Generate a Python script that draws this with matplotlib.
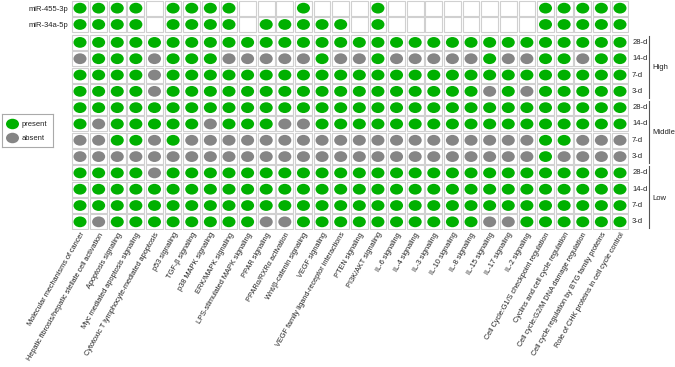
import numpy as np
import matplotlib.pyplot as plt
from matplotlib.patches import Ellipse, Rectangle

plt.rcParams['font.family'] = ['Liberation Sans', 'DejaVu Sans']

pathways = [
    "Molecular mechanisms of cancer",
    "Hepatic fibrosis/hepatic stellate cell activation",
    "Apoptosis signaling",
    "Myc mediated apoptosis signaling",
    "Cytotoxic T lymphocyte-mediated apoptosis",
    "p53 signaling",
    "TGF-β signaling",
    "p38 MAPK signaling",
    "ERK/MAPK signaling",
    "LPS-stimulated MAPK signaling",
    "PPAR signaling",
    "PPARα/RXRα activation",
    "Wnt/β-catenin signaling",
    "VEGF signaling",
    "VEGF family ligand-receptor interactions",
    "PTEN signaling",
    "PI3K/AKT signaling",
    "IL-6 signaling",
    "IL-4 signaling",
    "IL-3 signaling",
    "IL-10 signaling",
    "IL-8 signaling",
    "IL-15 signaling",
    "IL-17 signaling",
    "IL-2 signaling",
    "Cell Cycle:G1/S checkpoint regulation",
    "Cyclins and cell cycle regulation",
    "Cell cycle:G2/M DNA damage regulation",
    "Cell cycle regulation by BTG family proteins",
    "Role of CHK proteins in cell cycle control",
]

# 1 = present, 0 = absent, -1 = no mark
mir_names = ["miR-455-3p", "miR-34a-5p"]
mir455 = [1, 1, 1, 1, -1, 1, 1, 1, 1, -1, -1, -1, 1, -1, -1, -1, 1, -1, -1, -1, -1, -1, -1, -1, -1, 1, 1, 1, 1, 1]
mir34a = [1, 1, 1, 1, -1, 1, 1, 1, 1, -1, 1, 1, 1, 1, 1, -1, 1, -1, -1, -1, -1, -1, -1, -1, -1, 1, 1, 1, 1, 1]

days = ["28-d", "14-d", "7-d", "3-d"]
groups = ["High", "Middle", "Low"]

high_28 = [1] * 30
high_14 = [0, 1, 1, 1, 0, 1, 1, 1, 0, 0, 0, 0, 0, 1, 0, 0, 1, 0, 0, 0, 0, 0, 1, 0, 0, 1, 1, 0, 1, 1]
high_7 = [1, 1, 1, 1, 0, 1, 1, 1, 1, 1, 1, 1, 1, 1, 1, 1, 1, 1, 1, 1, 1, 1, 1, 1, 1, 1, 1, 1, 1, 1]
high_3 = [1, 1, 1, 1, 0, 1, 1, 1, 1, 1, 1, 1, 1, 1, 1, 1, 1, 1, 1, 1, 1, 1, 0, 1, 0, 1, 1, 1, 1, 1]

mid_28 = [1] * 30
mid_14 = [1, 0, 1, 1, 1, 1, 1, 0, 1, 1, 1, 0, 0, 1, 1, 1, 1, 1, 1, 1, 1, 1, 1, 1, 1, 1, 1, 1, 1, 1]
mid_7 = [0, 0, 1, 1, 0, 1, 0, 0, 0, 0, 0, 0, 0, 0, 0, 0, 0, 0, 0, 0, 0, 0, 0, 0, 0, 1, 1, 0, 0, 0]
mid_3 = [0, 0, 0, 0, 0, 0, 0, 0, 0, 0, 0, 0, 0, 0, 0, 0, 0, 0, 0, 0, 0, 0, 0, 0, 0, 1, 0, 0, 0, 0]

low_28 = [1, 1, 1, 1, 0, 1, 1, 1, 1, 1, 1, 1, 1, 1, 1, 1, 1, 1, 1, 1, 1, 1, 1, 1, 1, 1, 1, 1, 1, 1]
low_14 = [1] * 30
low_7 = [1] * 30
low_3 = [1, 0, 1, 1, 1, 1, 1, 1, 1, 1, 0, 0, 1, 1, 1, 1, 1, 1, 1, 1, 1, 1, 0, 0, 1, 1, 1, 1, 1, 1]

group_rows = [
    [high_28, high_14, high_7, high_3],
    [mid_28, mid_14, mid_7, mid_3],
    [low_28, low_14, low_7, low_3],
]

green = '#00b000'
grey = '#858585'
gap = 0.1

fig = plt.figure(figsize=(6.75, 3.67), dpi=100)
ax = fig.add_axes([70.7 / 675, 137 / 367, 558.6 / 675, 230 / 367])

def draw_row(vals, y):
    for i, v in enumerate(vals):
        ax.add_patch(Rectangle((i - 0.45, y - 0.46), 0.9, 0.92, facecolor='white',
                               edgecolor='#d0d0d0', lw=0.8))
        if v >= 0:
            ax.add_patch(Ellipse((i, y), 0.7, 0.66, facecolor=green if v == 1 else grey,
                                 edgecolor='none'))

row_y = []
for k, vals in enumerate([mir455, mir34a]):
    draw_row(vals, k)
    row_y.append(k)

for g, rows in enumerate(group_rows):
    ys = []
    for d, vals in enumerate(rows):
        y = 2 + g * 4 + d + gap
        draw_row(vals, y)
        ys.append(y)
        ax.text(29.65, y, days[d], ha='left', va='center', fontsize=5.5, color='#222222')
    ax.plot([30.55, 30.55], [ys[0] - 0.4, ys[-1] + 0.4], color='#555555', lw=0.8, clip_on=False)
    ax.text(30.75, np.mean(ys) + 0.05, groups[g], ha='left', va='center', fontsize=5.5,
            color='#222222')

ax.set_xlim(-0.5, 29.5)
ax.set_ylim(13.6, -0.5)
ax.set_xticks(np.arange(len(pathways)))
ax.set_xticklabels(pathways, rotation=60, ha='right', rotation_mode='anchor',
                   fontsize=5.3, color='#222222')
ax.set_yticks(row_y)
ax.set_yticklabels(mir_names, fontsize=5.5, color='#222222')
ax.tick_params(axis='x', length=0, pad=1.0)
ax.tick_params(axis='y', length=0, pad=2)
for s in ax.spines.values():
    s.set_visible(False)

# legend box
lax = fig.add_axes([2 / 675, 1 - 147 / 367, 51 / 675, 33 / 367])
lax.set_xlim(0, 51)
lax.set_ylim(33, 0)
lax.add_patch(Ellipse((10.5, 10), 13, 10.5, facecolor=green, edgecolor='none'))
lax.add_patch(Ellipse((10.5, 24), 13, 10.5, facecolor=grey, edgecolor='none'))
lax.text(19.5, 10, "present", va='center', fontsize=5.5, color='#222222')
lax.text(19.5, 24, "absent", va='center', fontsize=5.5, color='#222222')
lax.set_xticks([])
lax.set_yticks([])
for s in lax.spines.values():
    s.set_color('#aaaaaa')
    s.set_linewidth(0.8)

fig.savefig('out.png', dpi=100)
